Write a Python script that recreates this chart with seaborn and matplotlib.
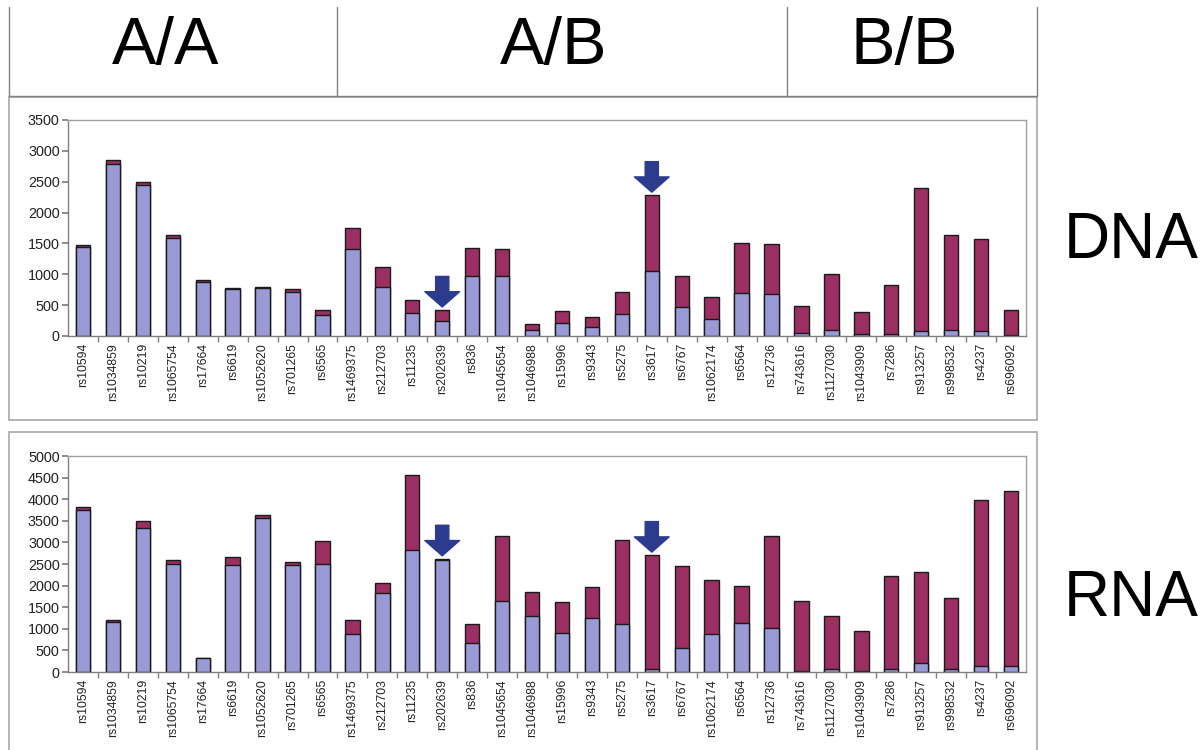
import matplotlib
matplotlib.use('Agg')
import matplotlib.pyplot as plt
import seaborn as sns
from matplotlib.lines import Line2D
from matplotlib.patches import Rectangle


# SNP markers along the x axis
snps = ['rs10594', 'rs1034859', 'rs10219', 'rs1065754', 'rs17664', 'rs6619',
        'rs1052620', 'rs701265', 'rs6565', 'rs1469375', 'rs212703', 'rs11235',
        'rs202639', 'rs836', 'rs1045654', 'rs1046988', 'rs15996', 'rs9343',
        'rs5275', 'rs3617', 'rs6767', 'rs1062174', 'rs6564', 'rs12736',
        'rs743616', 'rs1127030', 'rs1043909', 'rs7286', 'rs913257', 'rs998532',
        'rs4237', 'rs696092']

# genotype groups in the header
group_names = ['A/A', 'A/B', 'B/B']
group_sizes = [9, 15, 8]

# DNA counts (blue = allele A, red = allele B)
dna_a = [1440, 2790, 2440, 1580, 880, 765, 770, 710, 335, 1405, 800, 370,
         235, 975, 975, 100, 210, 145, 355, 1060, 470, 275, 700, 680,
         55, 90, 35, 35, 75, 90, 75, 15]
dna_b = [30, 60, 60, 50, 30, 20, 25, 55, 90, 350, 310, 215,
         190, 455, 435, 90, 195, 160, 365, 1225, 495, 355, 810, 810,
         435, 920, 350, 795, 2325, 1550, 1495, 405]

# RNA counts
rna_a = [3740, 1150, 3340, 2510, 320, 2470, 3570, 2475, 2500, 890, 1840, 2815,
         2590, 660, 1645, 1300, 900, 1245, 1100, 60, 555, 870, 1125, 1010,
         30, 70, 30, 70, 215, 70, 140, 140]
rna_b = [70, 45, 150, 90, 15, 185, 55, 70, 530, 305, 215, 1755,
         35, 450, 1495, 560, 725, 725, 1955, 2650, 1900, 1260, 865, 2130,
         1625, 1230, 910, 2160, 2100, 1640, 3830, 4060]

arrow_snps = ['rs202639', 'rs3617']

BLUE = '#9a9ad6'
RED = '#9b2f62'
ARROW = '#2d3b8f'
W, H = 1203, 750

sns.set_theme(style='white')
plt.rcParams['font.family'] = ['Liberation Sans', 'DejaVu Sans']

fig = plt.figure(figsize=(12.03, 7.5), dpi=100)


def fx(px):
    return px / W


def fy(py):
    return 1 - py / H


def panel(top_px, bottom_px, a_vals, b_vals, ymax):
    ax = fig.add_axes([fx(68), fy(bottom_px), fx(1026) - fx(68), (bottom_px - top_px) / H])
    total = [a + b for a, b in zip(a_vals, b_vals)]
    # red bar = full height, blue bar drawn on top of it
    sns.barplot(x=snps, y=total, color=RED, saturation=1, width=0.48,
                edgecolor='#1a1a1a', linewidth=1, errorbar=None, ax=ax)
    sns.barplot(x=snps, y=a_vals, color=BLUE, saturation=1, width=0.48,
                edgecolor='#1a1a1a', linewidth=1, errorbar=None, ax=ax)
    ax.set_xlim(-0.5, len(snps) - 0.5)
    ax.set_ylim(0, ymax)
    ax.set_yticks(range(0, ymax + 1, 500))
    ax.tick_params(axis='y', labelsize=10.4, colors='#222222', length=4,
                   direction='out', left=True, color='#808080', pad=2)
    ax.tick_params(axis='x', labelsize=8.7, labelcolor='#222222', rotation=90,
                   length=0, pad=5)
    ax.set_xticks([i + 0.5 for i in range(len(snps) - 1)], minor=True)
    ax.tick_params(axis='x', which='minor', bottom=True, length=4, color='#808080',
                   direction='out')
    for s in ax.spines.values():
        s.set_color('#a0a0a0')
        s.set_linewidth(1)
    ax.spines['left'].set_color('#808080')
    ax.spines['bottom'].set_color('#808080')
    ax.set_xlabel('')
    ax.set_ylabel('')
    # block arrows over the highlighted markers
    for name in arrow_snps:
        i = snps.index(name)
        ax.annotate('', xy=(i, total[i]), xytext=(0, 24), textcoords='offset points',
                    arrowprops=dict(arrowstyle='simple,head_length=11,head_width=25,tail_width=9.5',
                                    mutation_scale=1, color=ARROW, shrinkA=0, shrinkB=2))
    return ax


ax_dna = panel(120, 336, dna_a, dna_b, 3500)
ax_rna = panel(456, 672, rna_a, rna_b, 5000)

# panel frames
for top, bot in [(97, 420), (432, 752)]:
    fig.add_artist(Rectangle((fx(9), fy(bot)), fx(1037) - fx(9), (bot - top) / H,
                             transform=fig.transFigure, fill=False,
                             edgecolor='#a8a8a8', linewidth=1.2))

# header row with genotype groups
edges = [9]
cum = 0
for n in group_sizes[:-1]:
    cum += n
    xd = ax_dna.transData.transform((cum - 0.5, 0))[0]
    edges.append(xd * W / fig.bbox.width)
edges.append(1037)
for e in edges:
    fig.add_artist(Line2D([fx(e), fx(e)], [fy(7), fy(96)], transform=fig.transFigure,
                          color='#808080', linewidth=1))
fig.add_artist(Line2D([fx(9), fx(1037)], [fy(96), fy(96)], transform=fig.transFigure,
                      color='#808080', linewidth=1))
for k, name in enumerate(group_names):
    xc = (edges[k] + edges[k + 1]) / 2 - 8
    fig.text(fx(xc), fy(64), name, ha='center', va='baseline', fontsize=48, color='black')

fig.text(fx(1131), fy(258), 'DNA', ha='center', va='baseline', fontsize=46, color='black')
fig.text(fx(1131), fy(616), 'RNA', ha='center', va='baseline', fontsize=46, color='black')

plt.savefig('out.png', dpi=100)
